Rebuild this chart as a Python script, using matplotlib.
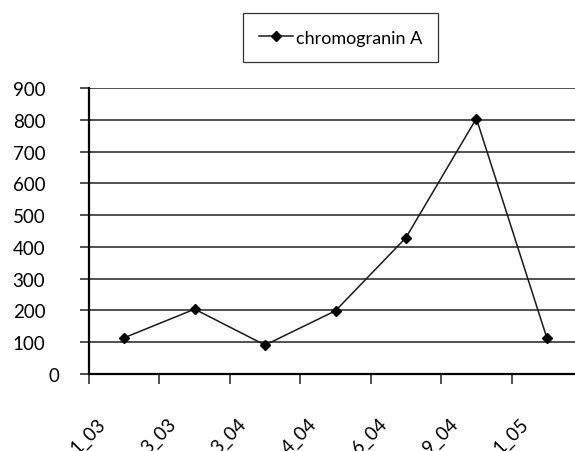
import numpy as np
import matplotlib
matplotlib.use("Agg")
import matplotlib.pyplot as plt
import matplotlib.transforms as mtransforms

# datos
categorias = ["1_03", "3_03", "3_04", "4_04", "6_04", "9_04", "1_05"]
valores = [114, 204, 91, 199, 429, 804, 114]
serie = "chromogranin A"
yticks = [0, 100, 200, 300, 400, 500, 600, 700, 800, 900]

plt.rcParams['font.family'] = ['Lato', 'DejaVu Sans']

fig = plt.figure(figsize=(5.75, 4.52), dpi=100)
ax = fig.add_axes([0.1548, 0.1704, 0.8574, 0.6327])

x = np.arange(len(categorias))
ax.plot(x, valores, color="#1a1a1a", linewidth=1.1, marker="D", markersize=5,
        markerfacecolor="black", markeredgecolor="black", label=serie)

ax.set_xlim(-0.5, len(categorias) - 0.5)
ax.set_ylim(0, 900)

# lineas de la rejilla horizontales
ax.set_yticks(yticks)
ax.yaxis.grid(True, color="#222222", linewidth=1.1)
ax.set_axisbelow(True)
ax.tick_params(axis="y", length=6.5, width=1.1, pad=25, labelsize=13.5, color="#222222")

# marcas del eje x en los limites de cada categoria, etiquetas en el centro
ax.set_xticks(np.arange(len(categorias) + 1) - 0.5, minor=True)
ax.set_xticks(x)
ax.set_xticklabels(categorias, rotation=45, ha="right", va="top")
ax.tick_params(axis="x", which="major", length=0, pad=29, labelsize=13.5)
ax.tick_params(axis="x", which="minor", length=7, width=1.1, color="#222222")

corrimiento = mtransforms.ScaledTranslation(-11 / 72, 0, fig.dpi_scale_trans)
for lbl in ax.get_xticklabels():
    lbl.set_transform(lbl.get_transform() + corrimiento)

for lbl in ax.get_yticklabels():
    if lbl.get_text() == "0":
        lbl.set_transform(lbl.get_transform() + mtransforms.ScaledTranslation(10 / 72, 0, fig.dpi_scale_trans))

for s in ["top", "right"]:
    ax.spines[s].set_visible(False)
ax.spines["left"].set_linewidth(1.6)
ax.spines["bottom"].set_linewidth(1.6)

leg = fig.legend(loc="center", bbox_to_anchor=(0.592, 0.9148), fontsize=13,
                 frameon=True, fancybox=False, edgecolor="black", borderpad=0.9,
                 handlelength=1.9, handletextpad=0.15, numpoints=1)
leg.get_frame().set_linewidth(0.9)

fig.savefig("out.png", dpi=100)
